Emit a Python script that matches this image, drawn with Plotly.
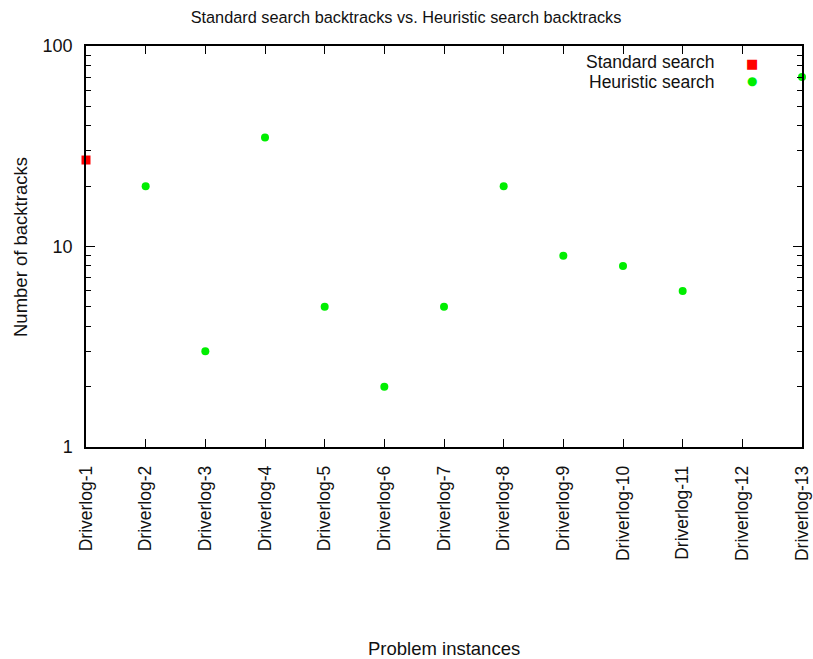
import plotly.graph_objects as go

categories = ["Driverlog-1", "Driverlog-2", "Driverlog-3", "Driverlog-4", "Driverlog-5",
              "Driverlog-6", "Driverlog-7", "Driverlog-8", "Driverlog-9", "Driverlog-10",
              "Driverlog-11", "Driverlog-12", "Driverlog-13"]
standard = [27, None, None, None, None, None, None, None, None, None, None, None, None]
heuristic = [None, 20, 3, 35, 5, 2, 5, 20, 9, 8, 6, None, 70]
y_ticks = [1, 10, 100]
y_ticktext = ["1", "10", "100"]

FONT = "Liberation Sans, Arial, Helvetica, sans-serif"
TXT = "#111111"
xs = list(range(len(categories)))

fig = go.Figure()
fig.add_trace(go.Scatter(x=xs, y=standard, mode="markers", name="Standard search",
                         marker=dict(symbol="square", size=9, color="#ff0000"),
                         cliponaxis=False))
fig.add_trace(go.Scatter(x=xs, y=heuristic, mode="markers", name="Heuristic search",
                         marker=dict(symbol="circle", size=8, color="#00ee00"),
                         cliponaxis=False))

fig.update_layout(
    width=813, height=659,
    margin=dict(l=86, r=11, t=46, b=212, autoexpand=False),
    paper_bgcolor="white", plot_bgcolor="white",
    showlegend=False,
    font=dict(family=FONT, size=16, color="black"),
    title=dict(text="Standard search backtracks vs. Heuristic search backtracks",
               x=406 / 813, xref="container", xanchor="center",
               y=1 - 17 / 659, yref="container", yanchor="middle",
               font=dict(size=16.3, family=FONT, color=TXT)),
)
fig.update_xaxes(
    range=[0, len(categories) - 1], tickmode="array", tickvals=xs, ticktext=categories,
    tickangle=-90, ticks="inside", ticklen=8, tickwidth=1.2, tickcolor="black",
    showline=True, linecolor="black", linewidth=1.5, mirror="ticks",
    showgrid=False, zeroline=False, ticklabelstandoff=10,
    tickfont=dict(size=17.5, family=FONT, color=TXT),
)
fig.update_yaxes(
    type="log", range=[0, 2], tickmode="array", tickvals=y_ticks, ticktext=y_ticktext,
    ticks="inside", ticklen=9, tickwidth=1.2, tickcolor="black",
    showline=True, linecolor="black", linewidth=1.5, mirror="ticks",
    showgrid=False, zeroline=False, ticklabelstandoff=8,
    tickfont=dict(size=18, family=FONT, color=TXT),
    minor=dict(ticks="inside", ticklen=5, tickwidth=1, tickcolor="black",
               tickvals=[2, 3, 4, 5, 6, 7, 8, 9, 20, 30, 40, 50, 60, 70, 80, 90], showgrid=False),
)

# axis titles
fig.add_annotation(text="Problem instances", xref="paper", yref="paper",
                   x=(444 - 86) / 716, y=-(648 - 447) / 401, xanchor="center", yanchor="middle",
                   showarrow=False, font=dict(size=18.5, family=FONT, color=TXT))
fig.add_annotation(text="Number of backtracks", xref="paper", yref="paper",
                   x=-(86 - 20) / 716, y=(447 - 247) / 401, xanchor="center", yanchor="middle",
                   textangle=-90, showarrow=False, font=dict(size=18.5, family=FONT, color=TXT))

# gnuplot-style key (text right-aligned, symbol on the right)
key = [("Standard search", "■", "#ff0000", 62, 63, 13), ("Heuristic search", "●", "#00ee00", 82, 81, 12)]
for label, sym, col, ypx, sypx, ssize in key:
    fig.add_annotation(text=label, xref="paper", yref="paper",
                       x=(715 - 86) / 716, y=(447 - ypx) / 401, xanchor="right", yanchor="middle",
                       showarrow=False, borderpad=0,
                       font=dict(size=17.5, family=FONT, color=TXT))
    fig.add_annotation(text=sym, xref="paper", yref="paper",
                       x=(752 - 86) / 716, y=(447 - sypx) / 401, xanchor="center", yanchor="middle",
                       showarrow=False, font=dict(size=ssize, family="DejaVu Sans", color=col))

fig.write_html("out.html")
